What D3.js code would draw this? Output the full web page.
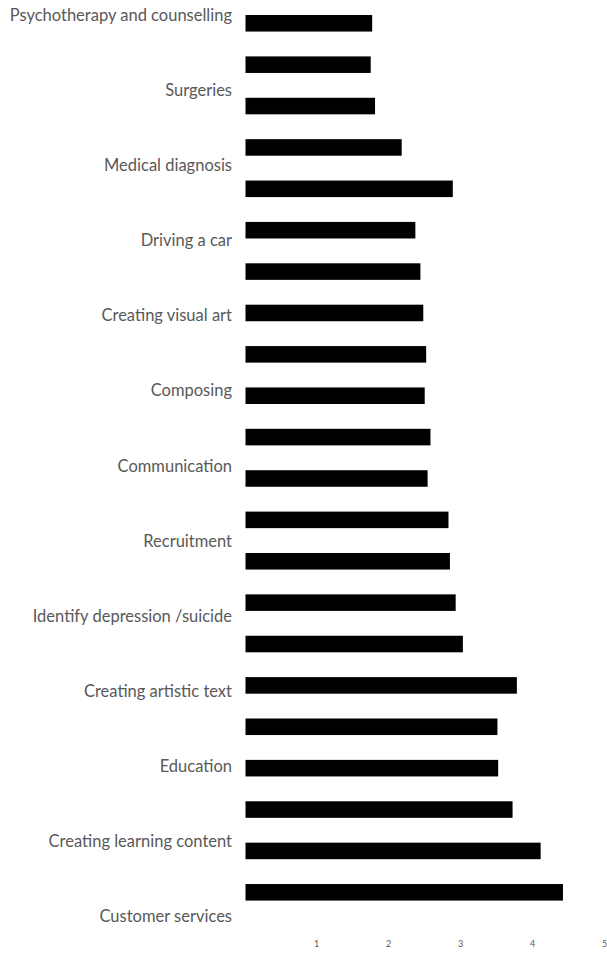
<!DOCTYPE html>
<html>
<head>
<meta charset="utf-8">
<script src="https://cdn.jsdelivr.net/npm/d3@7"></script>
<style>
  body { margin: 0; background: #fff; }
  .label { font-family: Lato, "Liberation Sans", sans-serif; font-size: 16.5px; fill: #595959; }
  .axis text { font-family: Lato, "Liberation Sans", sans-serif; font-size: 9px; fill: #595959; }
</style>
</head>
<body>
<div id="chart"></div>
<script>
// category labels, top to bottom
const categories = [
  "Psychotherapy and counselling", "Surgeries", "Medical diagnosis", "Driving a car",
  "Creating visual art", "Composing", "Communication", "Recruitment",
  "Identify depression /suicide", "Creating artistic text", "Education",
  "Creating learning content", "Customer services"
];

// bar values, top to bottom
const values = [
  1.78, 1.76, 1.82, 2.19, 2.90, 2.38, 2.45, 2.49, 2.53, 2.51, 2.59,
  2.55, 2.84, 2.86, 2.94, 3.04, 3.79, 3.52, 3.53, 3.73, 4.12, 4.43
];

const xTicks = [1, 2, 3, 4, 5];

const width = 607, height = 953;

const svg = d3.select("#chart")
  .append("svg")
    .attr("width", width)
    .attr("height", height);

// x scale
const xScale = d3.scaleLinear()
  .domain([0, 5])
  .range([244, 604]);

// bar band scale
const yBars = d3.scaleBand()
  .domain(d3.range(values.length))
  .range([2.6, 913])
  .paddingInner(0.6)
  .paddingOuter(0.3);

// label positions
const yLabels = d3.scalePoint()
  .domain(categories)
  .range([15, 916.7]);

// bars
svg.append("g")
  .selectAll("rect")
  .data(values)
  .join("rect")
    .attr("x", xScale(0) + 1.5)
    .attr("y", (d, i) => yBars(i))
    .attr("width", d => xScale(d) - xScale(0) - 1.5)
    .attr("height", yBars.bandwidth())
    .attr("fill", "#000");

// category labels
svg.append("g")
  .selectAll("text")
  .data(categories)
  .join("text")
    .attr("class", "label")
    .attr("x", 232)
    .attr("y", d => yLabels(d))
    .attr("dy", "0.35em")
    .attr("text-anchor", "end")
    .text(d => d);

// x axis
svg.append("g")
    .attr("class", "axis")
    .attr("transform", "translate(0, 935)")
  .call(d3.axisBottom(xScale).tickValues(xTicks).tickFormat(d3.format("d")).tickSize(0).tickPadding(6))
  .call(g => g.select(".domain").remove());
</script>
</body>
</html>
